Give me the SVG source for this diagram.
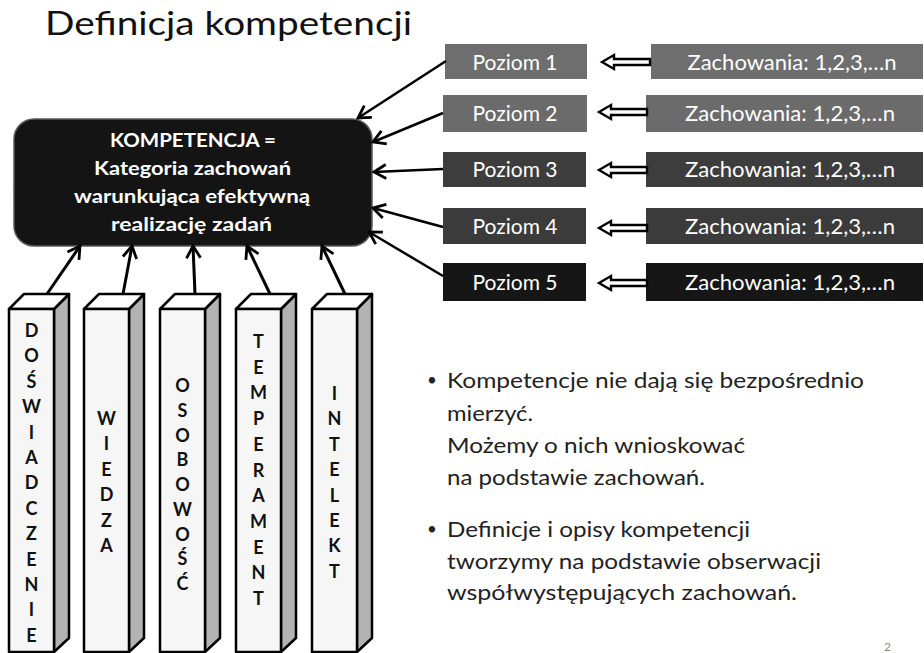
<svg xmlns="http://www.w3.org/2000/svg" width="924" height="653" viewBox="0 0 924 653">
<style>
.t{font-family:Lato,"Open Sans","Liberation Sans",sans-serif}
.bx{fill:#fff;font-size:21px;text-anchor:middle}
.pl{font-family:Lato,"Liberation Sans",sans-serif;font-weight:bold;font-size:18px;text-anchor:middle;fill:#111}
.front{fill:#f6f6f6;stroke:#000;stroke-width:2.5;stroke-linejoin:round}
.side{fill:#b3b3b3;stroke:#000;stroke-width:2.5;stroke-linejoin:round}
.top{fill:#fff;stroke:#000;stroke-width:2.5;stroke-linejoin:round}
.con{stroke:#000;stroke-width:2.5;fill:none;marker-end:url(#ah)}
.con2{stroke:#000;stroke-width:3;fill:none;marker-end:url(#ah)}
.hol{fill:#fff;stroke:#000;stroke-width:2.4;stroke-linejoin:miter}
.bul{font-size:22px;fill:#222}
.dot{font-size:17px;fill:#222}
</style>
<defs>
<marker id="ah" markerUnits="userSpaceOnUse" markerWidth="18" markerHeight="18" viewBox="0 0 18 18" refX="16" refY="9" orient="auto">
<path d="M4,2 L16,9 L4,16" fill="none" stroke="#000" stroke-width="2.8"/>
</marker>
<path id="hollow" d="M0,0 L12,-7 L12,-3 L48,-3 L48,3 L12,3 L12,7 Z"/>
</defs>
<rect width="924" height="653" fill="#fff"/>
<text class="t" x="45" y="35" font-size="32" fill="#111" textLength="367" lengthAdjust="spacingAndGlyphs">Definicja kompetencji</text>

<g id="kompetencja">
<rect x="14" y="119" width="358" height="127" rx="20" fill="#141414" stroke="#5a5a5a" stroke-width="1.5"/>
<text class="t" font-weight="bold" font-size="19" fill="#fff">
<tspan x="110" y="147" textLength="166" lengthAdjust="spacingAndGlyphs">KOMPETENCJA =</tspan>
<tspan x="94" y="175" textLength="197" lengthAdjust="spacingAndGlyphs">Kategoria zachowań</tspan>
<tspan x="74" y="203" textLength="236" lengthAdjust="spacingAndGlyphs">warunkująca efektywną</tspan>
<tspan x="111" y="231" textLength="161" lengthAdjust="spacingAndGlyphs">realizację zadań</tspan>
</text>
</g>

<g id="poziom1"><rect x="445" y="44" width="142" height="35" fill="#6e6e6e"/><text class="t bx" x="515" y="70">Poziom 1</text></g>
<g id="poziom2"><rect x="443" y="95" width="144" height="37" fill="#6b6b6b"/><text class="t bx" x="515" y="121">Poziom 2</text></g>
<g id="poziom3"><rect x="443" y="152" width="143" height="35" fill="#3d3d3d"/><text class="t bx" x="515" y="177">Poziom 3</text></g>
<g id="poziom4"><rect x="443" y="208" width="143" height="36" fill="#3b3b3b"/><text class="t bx" x="515" y="234">Poziom 4</text></g>
<g id="poziom5"><rect x="443" y="263" width="143" height="38" fill="#161616"/><text class="t bx" x="515" y="290">Poziom 5</text></g>

<g id="zach1"><rect x="651" y="44" width="272" height="35" fill="#6e6e6e"/><text class="t bx" x="792" y="70" textLength="209" lengthAdjust="spacingAndGlyphs">Zachowania: 1,2,3,…n</text></g>
<g id="zach2"><rect x="646" y="95" width="277" height="37" fill="#6b6b6b"/><text class="t bx" x="790" y="121" textLength="210" lengthAdjust="spacingAndGlyphs">Zachowania: 1,2,3,…n</text></g>
<g id="zach3"><rect x="646" y="152" width="277" height="35" fill="#3d3d3d"/><text class="t bx" x="790" y="177" textLength="210" lengthAdjust="spacingAndGlyphs">Zachowania: 1,2,3,…n</text></g>
<g id="zach4"><rect x="646" y="208" width="277" height="36" fill="#3b3b3b"/><text class="t bx" x="790" y="234" textLength="210" lengthAdjust="spacingAndGlyphs">Zachowania: 1,2,3,…n</text></g>
<g id="zach5"><rect x="646" y="263" width="277" height="38" fill="#161616"/><text class="t bx" x="790" y="290" textLength="210" lengthAdjust="spacingAndGlyphs">Zachowania: 1,2,3,…n</text></g>

<g id="pillar1">
<polygon class="side" points="54,309 69,294 69,638 54,652"/>
<polygon class="top" points="9,309 24,294 69,294 54,309"/>
<rect class="front" x="9" y="309" width="45" height="343"/>
<text class="pl"><tspan x="31.5" y="337">D</tspan><tspan x="31.5" y="362.4">O</tspan><tspan x="31.5" y="387.8">Ś</tspan><tspan x="31.5" y="413.2">W</tspan><tspan x="31.5" y="438.6">I</tspan><tspan x="31.5" y="464">A</tspan><tspan x="31.5" y="489.4">D</tspan><tspan x="31.5" y="514.8">C</tspan><tspan x="31.5" y="540.2">Z</tspan><tspan x="31.5" y="565.6">E</tspan><tspan x="31.5" y="591">N</tspan><tspan x="31.5" y="616.4">I</tspan><tspan x="31.5" y="641.8">E</tspan></text>
</g>
<g id="pillar2">
<polygon class="side" points="129,309 144,294 144,638 129,652"/>
<polygon class="top" points="84,309 99,294 144,294 129,309"/>
<rect class="front" x="84" y="309" width="45" height="343"/>
<text class="pl"><tspan x="106.5" y="425">W</tspan><tspan x="106.5" y="450.4">I</tspan><tspan x="106.5" y="475.8">E</tspan><tspan x="106.5" y="501.2">D</tspan><tspan x="106.5" y="526.6">Z</tspan><tspan x="106.5" y="552">A</tspan></text>
</g>
<g id="pillar3">
<polygon class="side" points="205,309 220,294 220,638 205,652"/>
<polygon class="top" points="160,309 175,294 220,294 205,309"/>
<rect class="front" x="160" y="309" width="45" height="343"/>
<text class="pl"><tspan x="182.5" y="392">O</tspan><tspan x="182.5" y="416.8">S</tspan><tspan x="182.5" y="441.5">O</tspan><tspan x="182.5" y="466.3">B</tspan><tspan x="182.5" y="491">O</tspan><tspan x="182.5" y="515.8">W</tspan><tspan x="182.5" y="540.5">O</tspan><tspan x="182.5" y="565.3">Ś</tspan><tspan x="182.5" y="590">Ć</tspan></text>
</g>
<g id="pillar4">
<polygon class="side" points="281,309 296,294 296,638 281,652"/>
<polygon class="top" points="236,309 251,294 296,294 281,309"/>
<rect class="front" x="236" y="309" width="45" height="343"/>
<text class="pl"><tspan x="258.5" y="348">T</tspan><tspan x="258.5" y="373.7">E</tspan><tspan x="258.5" y="399.4">M</tspan><tspan x="258.5" y="425.1">P</tspan><tspan x="258.5" y="450.8">E</tspan><tspan x="258.5" y="476.5">R</tspan><tspan x="258.5" y="502.2">A</tspan><tspan x="258.5" y="527.9">M</tspan><tspan x="258.5" y="553.6">E</tspan><tspan x="258.5" y="579.3">N</tspan><tspan x="258.5" y="605">T</tspan></text>
</g>
<g id="pillar5">
<polygon class="side" points="357,309 372,294 372,638 357,652"/>
<polygon class="top" points="312,309 327,294 372,294 357,309"/>
<rect class="front" x="312" y="309" width="45" height="343"/>
<text class="pl"><tspan x="334.5" y="400">I</tspan><tspan x="334.5" y="425.4">N</tspan><tspan x="334.5" y="450.8">T</tspan><tspan x="334.5" y="476.2">E</tspan><tspan x="334.5" y="501.6">L</tspan><tspan x="334.5" y="527">E</tspan><tspan x="334.5" y="552.4">K</tspan><tspan x="334.5" y="577.8">T</tspan></text>
</g>

<g id="connectors">
<line class="con" x1="446" y1="61" x2="358" y2="118"/>
<line class="con" x1="443" y1="113" x2="373" y2="142"/>
<line class="con" x1="443" y1="169" x2="374" y2="172"/>
<line class="con" x1="443" y1="227" x2="373" y2="208"/>
<line class="con" x1="443" y1="276" x2="369" y2="232"/>
<line class="con2" x1="47" y1="294" x2="80" y2="246"/>
<line class="con2" x1="123" y1="294" x2="132" y2="246"/>
<line class="con2" x1="195" y1="294" x2="193" y2="246"/>
<line class="con2" x1="270" y1="294" x2="247" y2="246"/>
<line class="con2" x1="345" y1="294" x2="322" y2="246"/>
<use href="#hollow" class="hol" x="602" y="62"/>
<use href="#hollow" class="hol" x="599" y="112"/>
<use href="#hollow" class="hol" x="599" y="170"/>
<use href="#hollow" class="hol" x="599" y="228"/>
<use href="#hollow" class="hol" x="599" y="283"/>
</g>

<g id="bullets" class="t">
<text class="dot" x="427" y="386">•</text>
<text class="bul" x="447" y="388" textLength="417" lengthAdjust="spacingAndGlyphs">Kompetencje nie dają się bezpośrednio</text>
<text class="bul" x="447" y="421" textLength="86" lengthAdjust="spacingAndGlyphs">mierzyć.</text>
<text class="bul" x="447" y="453" textLength="298" lengthAdjust="spacingAndGlyphs">Możemy o nich wnioskować</text>
<text class="bul" x="447" y="485" textLength="258" lengthAdjust="spacingAndGlyphs">na podstawie zachowań.</text>
<text class="dot" x="427" y="535">•</text>
<text class="bul" x="447" y="537" textLength="303" lengthAdjust="spacingAndGlyphs">Definicje i opisy kompetencji</text>
<text class="bul" x="447" y="569" textLength="374" lengthAdjust="spacingAndGlyphs">tworzymy na podstawie obserwacji</text>
<text class="bul" x="447" y="600" textLength="350" lengthAdjust="spacingAndGlyphs">współwystępujących zachowań.</text>
</g>
<text class="t" x="884" y="651" font-size="12" fill="#888">2</text>
</svg>
